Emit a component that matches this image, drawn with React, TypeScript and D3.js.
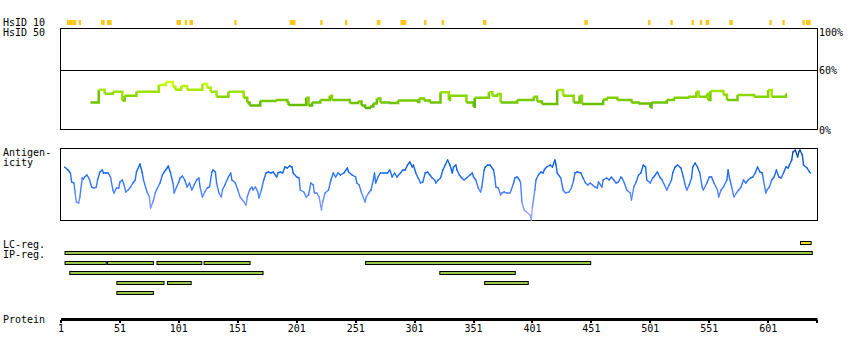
import React from 'react';
import * as d3 from 'd3';

const SEQ_LEN = 642;

// HsID 10 hits, [start, end] residue
const hsid10Hits: [number, number][] = [
  [6, 10], [11, 13], [16, 17], [35, 37], [40, 43], [99, 102], [106, 107], [110, 112],
  [148, 149], [195, 199], [221, 222], [242, 243], [269, 271], [289, 293], [309, 310],
  [324, 325], [359, 361], [445, 447], [499, 500], [518, 519], [536, 537], [543, 544],
  [548, 550], [568, 570], [602, 603], [613, 614], [630, 631], [633, 636],
];

// HsID 50 identity (%), step profile [residue, value]
const hsid50: [number, number][] = [
  [26, 27], [33, 40], [38, 36], [45, 38], [53, 29], [55, 34], [65, 38], [84, 45], [90, 48],
  [96, 43], [98, 40], [103, 44], [108, 40], [121, 46], [125, 42], [128, 38], [133, 33],
  [143, 38], [156, 32], [159, 27], [161, 24], [170, 28.6], [183, 29.6], [193, 27], [194, 24.5],
  [209, 32], [211, 24], [214, 27], [221, 29.6], [229, 34], [231, 29.6], [246, 26.5], [253, 28],
  [256, 24], [259, 21.4], [263, 23], [266, 26], [269, 31], [272, 27], [279, 26.5], [287, 29],
  [303, 27.5], [305, 31], [309, 29], [314, 27], [323, 37.4], [330, 29.6], [331, 34], [345, 27],
  [351, 22.8], [352, 32], [364, 37.4], [367, 34], [371, 35.7], [374, 27], [388, 29.6],
  [402, 33], [405, 28], [409, 25.5], [422, 39.8], [427, 34], [436, 27], [441, 34], [443, 25.5],
  [461, 30], [464, 32], [473, 29.6], [485, 27], [491, 26], [501, 22], [502, 27], [515, 29.6],
  [521, 32], [533, 33], [540, 38], [542, 33], [549, 36], [550, 29.6], [552, 38.8], [563, 35],
  [566, 29.6], [575, 34.7], [589, 33], [601, 39.8], [604, 33], [616, 35.7], [617, 35.7],
];

// antigenicity index [residue, value]
const antigenicity: [number, number][] = [
  [4, 53], [7, 50], [9, 47], [10, 38], [12, 37], [13, 27], [14, 18], [16, 17], [17, 23], [19, 42],
  [20, 41], [21, 43], [23, 45], [25, 41], [27, 33], [29, 32], [31, 33], [32, 40], [34, 48], [36, 50],
  [37, 47], [39, 47], [41, 47], [43, 43], [45, 30], [46, 27], [48, 32], [50, 32], [51, 38], [53, 40],
  [54, 37], [56, 28], [58, 30], [60, 33], [62, 37], [64, 40], [65, 48], [68, 56], [70, 47], [71, 40],
  [74, 28], [76, 23], [77, 12], [79, 18], [81, 27], [82, 30], [85, 37], [87, 45], [88, 47], [91, 52],
  [92, 54], [94, 47], [96, 37], [97, 27], [99, 33], [101, 38], [102, 42], [104, 44], [106, 40], [108, 33],
  [110, 37], [112, 30], [114, 35], [116, 40], [118, 42], [119, 33], [121, 23], [123, 28], [125, 32],
  [127, 33], [129, 48], [130, 50], [132, 48], [133, 37], [135, 27], [137, 23], [138, 30], [140, 35],
  [143, 43], [145, 47], [146, 40], [149, 37], [151, 30], [153, 23], [155, 20], [158, 15], [159, 23],
  [161, 30], [163, 33], [164, 30], [166, 33], [168, 28], [169, 22], [171, 30], [173, 40], [175, 47],
  [177, 48], [179, 47], [181, 48], [184, 43], [185, 47], [187, 48], [189, 47], [191, 53], [193, 52],
  [195, 54], [197, 53], [198, 47], [201, 43], [203, 42], [204, 30], [207, 28], [209, 23], [211, 25],
  [213, 37], [215, 35], [216, 27], [218, 27], [220, 23], [222, 10], [223, 18], [225, 27], [228, 30],
  [230, 40], [232, 47], [234, 43], [236, 47], [238, 45], [241, 47], [244, 52], [245, 48], [248, 45],
  [251, 43], [252, 37], [254, 35], [256, 27], [259, 18], [260, 23], [262, 27], [264, 30], [266, 40],
  [267, 47], [268, 37], [270, 43], [272, 47], [275, 47], [278, 47], [280, 50], [282, 43], [284, 47],
  [286, 43], [289, 47], [291, 50], [293, 50], [295, 55], [297, 58], [299, 53], [300, 55], [302, 47],
  [304, 42], [305, 40], [306, 37], [308, 38], [310, 47], [312, 48], [314, 45], [316, 42], [318, 40],
  [319, 37], [321, 40], [323, 42], [325, 50], [327, 55], [329, 60], [331, 55], [333, 47], [334, 53],
  [336, 55], [337, 50], [339, 45], [341, 42], [343, 40], [345, 42], [348, 45], [350, 47], [351, 43],
  [353, 40], [355, 32], [357, 28], [358, 33], [360, 50], [361, 53], [363, 55], [365, 55], [368, 50],
  [369, 43], [370, 33], [372, 32], [374, 25], [375, 27], [377, 28], [379, 27], [382, 27], [383, 30],
  [385, 37], [386, 42], [388, 43], [390, 40], [391, 37], [392, 18], [394, 10], [396, 8], [399, 5],
  [400, 0], [401, 13], [403, 30], [404, 40], [406, 45], [408, 48], [410, 47], [411, 50], [413, 53],
  [416, 55], [418, 53], [420, 60], [421, 55], [422, 47], [425, 42], [427, 30], [429, 27], [432, 28],
  [434, 32], [436, 40], [437, 47], [439, 48], [442, 47], [444, 42], [446, 37], [448, 35], [450, 37],
  [452, 35], [454, 33], [456, 32], [457, 38], [460, 33], [461, 40], [464, 42], [466, 40], [468, 43],
  [470, 40], [472, 37], [474, 38], [476, 43], [477, 42], [479, 37], [481, 30], [484, 27], [485, 20],
  [487, 33], [489, 38], [491, 45], [493, 47], [495, 55], [497, 53], [498, 40], [501, 37], [503, 42],
  [504, 43], [507, 48], [509, 43], [511, 40], [513, 35], [515, 30], [517, 35], [519, 40], [520, 47],
  [522, 53], [524, 55], [527, 52], [529, 43], [531, 33], [532, 30], [534, 35], [536, 42], [537, 53],
  [539, 57], [541, 53], [543, 47], [545, 33], [546, 30], [549, 37], [551, 43], [553, 43], [555, 37],
  [558, 30], [559, 23], [561, 30], [563, 33], [566, 40], [567, 50], [568, 43], [570, 33], [572, 23],
  [574, 27], [576, 30], [578, 33], [580, 40], [582, 37], [584, 40], [586, 42], [588, 43], [590, 47],
  [592, 53], [594, 48], [596, 47], [597, 40], [599, 27], [600, 30], [602, 33], [604, 40], [606, 43],
  [608, 50], [610, 43], [612, 42], [614, 47], [616, 53], [618, 52], [619, 55], [621, 60], [622, 68],
  [624, 70], [626, 63], [627, 68], [628, 70], [630, 65], [631, 55], [634, 52], [636, 48], [637, 47],
];

// LC regions and IP regions (rows), [start, end]
const lcRegions: [number, number][] = [[628, 637]];
const ipRows: [number, number][][] = [
  [[4, 638]],
  [[4, 39], [40, 79], [82, 120], [122, 161], [259, 450]],
  [[8, 172], [322, 386]],
  [[48, 88], [91, 111], [360, 397]],
  [[48, 79]],
];

const tickValues = d3.range(1, SEQ_LEN, 50);

const FONT = '"DejaVu Sans Mono", monospace';

export default function App() {
  const x = d3.scaleLinear().domain([1, SEQ_LEN]).range([61, 816.5]);
  const yId = d3.scaleLinear().domain([0, 100]).range([129, 31]);
  const yAg = d3.scaleLinear().domain([0, 72]).range([220, 148]);

  const idColor = d3.scaleLinear<string>().domain([22, 34, 48]).range(['#5cb800', '#88d600', '#d0ff10']);
  const agColor = d3.scaleLinear<string>()
    .domain([0, 25, 50, 70])
    .range(['#b4aaff', '#5588ff', '#1266ee', '#0a4a9a']);

  const stepLine = d3.line<[number, number]>()
    .x((d) => x(d[0]))
    .y((d) => yId(d[1]))
    .curve(d3.curveStepAfter);
  const agLine = d3.line<[number, number]>()
    .x((d) => x(d[0]))
    .y((d) => yAg(d[1]));

  const rowY = (i: number) => 251 + i * 10;

  const txt = (s: string, tx: number, ty: number, anchor = 'start') => (
    <text x={tx} y={ty} textAnchor={anchor} fontFamily={FONT} fontSize={10} fill="#000">{s}</text>
  );

  return (
    <svg width={850} height={360} style={{ position: 'absolute', left: 0, top: 0, background: '#fff' }}>
      {txt('HsID 10', 3, 26)}
      {txt('HsID 50', 3, 36)}
      {txt('Antigen-', 3, 156)}
      {txt('icity', 3, 166)}
      {txt('LC-reg.', 3, 248)}
      {txt('IP-reg.', 3, 258)}
      {txt('Protein', 3, 323)}

      {/* HsID 10 marks */}
      {hsid10Hits.map(([s, e], i) => (
        <rect key={'h' + i} x={x(s)} y={20} width={Math.max(2, x(e + 1) - x(s))} height={5} fill="#ffc61a" />
      ))}

      {/* HsID 50 panel */}
      <rect x={60.5} y={28.5} width={757} height={101} fill="none" stroke="#000" />
      <line x1={60.5} x2={817.5} y1={70.5} y2={70.5} stroke="#000" />
      {txt('100%', 819, 36)}
      {txt('60%', 819, 74)}
      {txt('0%', 819, 134)}
      {hsid50.slice(0, -1).map((d, i) => (
        <path key={'g' + i} d={stepLine([d, hsid50[i + 1]]) || ''} fill="none"
          stroke={idColor(d[1])} strokeWidth={2.5} />
      ))}

      {/* antigenicity panel */}
      <rect x={60.5} y={148.5} width={757} height={72} fill="none" stroke="#000" />
      {antigenicity.slice(0, -1).map((d, i) => {
        const n = antigenicity[i + 1];
        return (
          <path key={'a' + i} d={agLine([d, n]) || ''} fill="none"
            stroke={agColor((d[1] + n[1]) / 2)} strokeWidth={1.4} strokeLinecap="round" />
        );
      })}

      {/* regions */}
      {lcRegions.map(([s, e], i) => (
        <rect key={'lc' + i} x={x(s) + 0.5} y={241.5} width={x(e) - x(s)} height={3}
          fill="#eedd22" stroke="#000" strokeWidth={1} />
      ))}
      {ipRows.map((row, ri) => row.map(([s, e], i) => (
        <rect key={'ip' + ri + '-' + i} x={x(s) + 0.5} y={rowY(ri) + 0.5} width={x(e) - x(s)} height={3}
          fill="#99c94c" stroke="#000" strokeWidth={1} />
      )))}

      {/* protein axis */}
      <rect x={61} y={318} width={x(SEQ_LEN) - 61 + 1} height={3} fill="#000" />
      {tickValues.map((t) => (
        <g key={'t' + t}>
          <rect x={Math.round(x(t)) - 1} y={320} width={2} height={3} fill="#000" />
          {txt(String(t), x(t), 332, 'middle')}
        </g>
      ))}
      <rect x={Math.round(x(SEQ_LEN)) - 1} y={320} width={2} height={3} fill="#000" />
    </svg>
  );
}
